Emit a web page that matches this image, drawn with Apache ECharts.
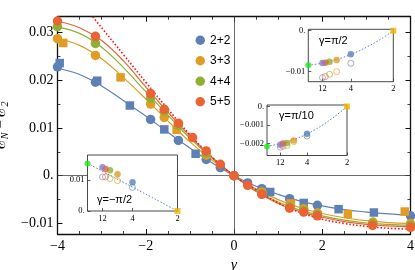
<!DOCTYPE html>
<html><head><meta charset="utf-8">
<script src="https://cdn.jsdelivr.net/npm/echarts@6/dist/echarts.min.js"></script>
<style>html,body{margin:0;padding:0;background:#fff}#c{width:415px;height:270px}</style>
</head><body><div id="c"></div>
<script>
// ---------- DATA ----------
const seriesNames = ['2+2', '3+3', '4+4', '5+5'];
const xTickValues = [-4, -2, 0, 2, 4];
const yMajorTicks = [-0.01, 0, 0.01, 0.02, 0.03];
const yMinorTicks = [-0.005, 0.005, 0.015, 0.025];

// circles (gamma, E_N - E_2)
const blueCircles = [[-4, 0.0228], [-3.14, 0.0196], [-1.89, 0.0118], [-1.26, 0.0074], [-0.63, 0.0034], [-0.31, 0.0017], [0, 0], [0.31, -0.0015], [0.63, -0.0027], [1.26, -0.0048], [1.89, -0.0062], [4, -0.0084]];
const orangeCircles = [[-4, 0.0287], [-3.14, 0.0252], [-1.89, 0.0150], [-1.58, 0.0122], [-0.63, 0.0043], [0, 0], [0.63, -0.0034], [1.27, -0.0061], [1.58, -0.0069], [1.89, -0.0078], [3.15, -0.0097], [4, -0.0100]];
const greenCircles = [[-4, 0.0312], [-3.14, 0.0277], [-1.89, 0.0162], [-1.58, 0.0135], [-1.26, 0.0106], [-0.63, 0.0048], [0, 0], [0.63, -0.0037], [1.26, -0.0065], [1.58, -0.0073], [1.89, -0.0081], [3.14, -0.0100], [4, -0.0104]];
const redCircles = [[-4, 0.0324], [-3.14, 0.0292], [-1.89, 0.0172], [-1.58, 0.0139], [-1.26, 0.0110], [-0.94, 0.0080], [-0.63, 0.0052], [-0.31, 0.0024], [0, 0], [0.31, -0.0020], [0.63, -0.0039], [1.26, -0.0068], [1.58, -0.0076], [1.89, -0.0084], [3.14, -0.0104], [4, -0.0108]];
// squares
const blueSquares = [[-3.95, 0.0236], [-3.1, 0.0199], [-2.36, 0.0147], [-1.58, 0.0097], [-0.87, 0.0046], [0.82, -0.0034], [1.58, -0.0057], [2.37, -0.0070], [3.17, -0.0077]];
const orangeSquares = [[-3.87, 0.0278], [-2.57, 0.0206], [-1.3, 0.0096], [1.29, -0.0058], [2.58, -0.0080], [3.87, -0.0075]];

// fit curves sampled at fitGamma
const fitGamma = [-4, -3.5, -3, -2.5, -2, -1.5, -1, -0.5, 0, 0.5, 1, 1.5, 2, 2.5, 3, 3.5, 4];
const blueFit = [0.0225, 0.0212, 0.0188, 0.0157, 0.0125, 0.0091, 0.0058, 0.0027, 0, -0.0022, -0.0039, -0.0053, -0.0063, -0.0071, -0.0076, -0.0080, -0.0083];
const orangeFit = [0.0287, 0.0273, 0.0245, 0.0205, 0.0161, 0.0115, 0.0071, 0.0033, 0, -0.0028, -0.0050, -0.0067, -0.0079, -0.0088, -0.0094, -0.0098, -0.0100];
const greenFit = [0.0311, 0.0298, 0.0269, 0.0226, 0.0176, 0.0127, 0.0079, 0.0037, 0, -0.0031, -0.0055, -0.0072, -0.0084, -0.0093, -0.0099, -0.0102, -0.0104];
const redFit = [0.0323, 0.0310, 0.0283, 0.0240, 0.0186, 0.0133, 0.0083, 0.0039, 0, -0.0033, -0.0058, -0.0075, -0.0087, -0.0096, -0.0102, -0.0105, -0.0107];
const limitGamma = [-3.3, -3, -2.5, -2, -1.5, -1, -0.5, 0, 0.5, 1, 1.5, 2, 2.5, 3, 3.5, 4];
const limitCurve = [0.0344, 0.0310, 0.0253, 0.0196, 0.0140, 0.0086, 0.0039, 0, -0.0029, -0.0057, -0.0077, -0.0091, -0.0100, -0.0106, -0.0110, -0.0112];

// insets: x = 1/N
const insetInvN = [1/4, 1/6, 1/8, 1/10, 1/12];
const insetXTicks = [1/12, 1/4, 1/2];
const insetFitX = [0, 0.05, 0.1, 0.15, 0.2, 0.25, 0.3, 0.35, 0.4, 0.45, 0.5];
const inset1Title = 'γ=π/2';
const inset1Filled = [-0.00576, -0.00715, -0.00756, -0.0078, -0.0079];
const inset1Open = [-0.00795, -0.0100, -0.01063, -0.0112, -0.01146];
const inset1Extrap = -0.0084;
const inset1Fit = [-0.0084, -0.00814, -0.00774, -0.00722, -0.00658, -0.0058, -0.0049, -0.00386, -0.0027, -0.00142, 0];
const inset1YTicks = [-0.01, 0];
const inset2Title = 'γ=π/10';
const inset2Filled = [-0.00148, -0.00184, -0.00198, -0.0020, -0.00207];
const inset2Open = [-0.0016, -0.0019, -0.0021, -0.00215, -0.0022];
const inset2Extrap = -0.00216;
const inset2Fit = [-0.00216, -0.00207, -0.00198, -0.00184, -0.00168, -0.00148, -0.00125, -0.00099, -0.00069, -0.00036, 0];
const inset2YTicks = [-0.002, -0.001, 0];
const inset3Title = 'γ=\u2212π/2';
const inset3Filled = [0.00926, 0.0119, 0.0132, 0.01355, 0.0141];
const inset3Open = [0.0076, 0.0098, 0.0105, 0.0110, 0.0110];
const inset3Extrap = 0.01539;
const inset3Fit = [0.0154, 0.01386, 0.01232, 0.01078, 0.00924, 0.0077, 0.00616, 0.00462, 0.00308, 0.00154, 0];
const inset3YTicks = [0, 0.01];

// ---------- STYLE ----------
const colors = ['#5E81B5', '#E19C24', '#8FB032', '#EB6235'];
const purple = '#8F7BC0';
const extrapColor = '#1EE81E';
const n2Color = '#F4B400';
const serif = '"Liberation Serif", "DejaVu Serif", serif';
const sans = '"Liberation Sans", Arial, sans-serif';
const ink = '#111';

const zip = (xs, ys) => xs.map((x, i) => [x, ys[i]]);
const minus = s => s.replace('-', '\u2212');
const fmtY = v => Math.abs(v) < 1e-9 ? '0.' : minus(String(+v.toFixed(4)));
const fmtX = v => minus(String(v));

const yMin = -0.0122, yMax = 0.0333;

function mainX(pos, showLabel) {
  return {
    type: 'value', gridIndex: 0, position: pos, min: -4, max: 4, interval: 2,
    axisLine: { show: true, onZero: false, lineStyle: { color: ink, width: 1.3 } },
    axisTick: { show: true, inside: true, length: 5, lineStyle: { color: ink, width: 1 } },
    minorTick: { show: true, splitNumber: 4, length: 3, lineStyle: { color: ink, width: 0.8 } },
    splitLine: { show: false }, minorSplitLine: { show: false },
    axisLabel: { show: showLabel, formatter: fmtX, fontFamily: serif, fontSize: 14, color: '#000', margin: 5 },
    name: showLabel ? 'γ' : '', nameLocation: 'middle', nameGap: 23,
    nameTextStyle: { fontFamily: serif, fontSize: 15, fontStyle: 'italic', color: '#000' }
  };
}
function mainY(pos, ticks, len, showLabel, showLine) {
  const ax = {
    type: 'value', gridIndex: 0, position: pos, min: yMin, max: yMax,
    axisLine: { show: showLine, onZero: false, lineStyle: { color: ink, width: 1.3 } },
    axisTick: { show: true, inside: true, length: len, customValues: ticks, lineStyle: { color: ink, width: len > 4 ? 1 : 0.8 } },
    splitLine: { show: false },
    axisLabel: { show: showLabel, customValues: ticks, formatter: fmtY, fontFamily: serif, fontSize: 14, color: '#000', margin: 4 }
  };
  if (showLabel) {
    ax.name = '{e|ℰ}{s|N}{m| − }{e|ℰ}{s|2}';
    ax.nameLocation = 'middle';
    ax.nameGap = 38;
    ax.nameRotate = 90;
    ax.nameTextStyle = {
      color: '#000',
      rich: {
        e: { fontFamily: serif, fontSize: 17, color: '#000', lineHeight: 19 },
        s: { fontFamily: serif, fontSize: 10, fontStyle: 'italic', color: '#000', verticalAlign: 'bottom', lineHeight: 19, padding: [8, 0, 0, 0] },
        m: { fontFamily: serif, fontSize: 15, color: '#000', lineHeight: 19 }
      }
    };
  }
  return ax;
}

const xAxes = [mainX('bottom', true), mainX('top', false)];
const yAxes = [
  mainY('left', yMajorTicks, 5, true, true),
  mainY('left', yMinorTicks, 3, false, false),
  mainY('right', yMajorTicks, 5, false, true),
  mainY('right', yMinorTicks, 3, false, false)
];

const insets = [
  { grid: { left: 308.3, top: 29.3, width: 85, height: 52.4 }, ymin: -0.01244, ymax: 0.00034, yTicks: inset1YTicks, filled: inset1Filled, open: inset1Open, extrap: inset1Extrap, fit: inset1Fit, title: inset1Title, tpos: [319, 35.5] },
  { grid: { left: 267, top: 105, width: 80, height: 50.5 }, ymin: -0.00265, ymax: 0.00008, yTicks: inset2YTicks, filled: inset2Filled, open: inset2Open, extrap: inset2Extrap, fit: inset2Fit, title: inset2Title, tpos: [279, 110.5] },
  { grid: { left: 87.5, top: 155, width: 90, height: 56 }, ymin: -0.00002, ymax: 0.0181, yTicks: inset3YTicks, filled: inset3Filled, open: inset3Open, extrap: inset3Extrap, fit: inset3Fit, title: inset3Title, tpos: [97, 194.5] }
];

const grids = [{ left: 57.5, right: 4.5, top: 16.7, bottom: 36, show: false, containLabel: false, outerBoundsMode: 'none' }];
const series = [];
const pointColors = [colors[0], colors[1], colors[2], colors[3], purple];

// main zero lines + fits
const fits = [blueFit, orangeFit, greenFit, redFit];
fits.forEach((f, i) => {
  const s = {
    type: 'line', name: 'fit' + i, xAxisIndex: 0, yAxisIndex: 0, data: zip(fitGamma, f),
    smooth: 0.4, showSymbol: false, symbol: 'none', clip: true,
    lineStyle: { color: colors[i], width: 1.2 }, z: 3, silent: true
  };
  if (i === 0) {
    s.markLine = {
      silent: true, symbol: 'none', label: { show: false }, animation: false,
      lineStyle: { color: '#444', width: 0.8, type: 'solid' },
      data: [{ xAxis: 0 }, { yAxis: 0 }]
    };
  }
  series.push(s);
});
series.push({
  type: 'line', name: 'limit', xAxisIndex: 0, yAxisIndex: 0, data: zip(limitGamma, limitCurve),
  smooth: 0.4, showSymbol: false, symbol: 'none', clip: true,
  lineStyle: { color: '#FF1010', width: 1.6, type: [1.5, 2] }, z: 3, silent: true
});
const squares = [blueSquares, orangeSquares];
const circles = [blueCircles, orangeCircles, greenCircles, redCircles];
circles.forEach((c, i) => {
  if (squares[i]) series.push({ type: 'scatter', name: 'sq' + i, xAxisIndex: 0, yAxisIndex: 0, data: squares[i], symbol: 'rect', symbolSize: 8.5, itemStyle: { color: colors[i], opacity: 1 }, z: 4 + i, silent: true });
  series.push({ type: 'scatter', name: seriesNames[i], xAxisIndex: 0, yAxisIndex: 0, data: c, symbol: 'circle', symbolSize: 9.5, itemStyle: { color: colors[i], opacity: 1 }, z: 4 + i, silent: true });
});

const graphics = [];
insets.forEach((ins, k) => {
  const gi = k + 1;
  grids.push(Object.assign({ show: true, backgroundColor: '#fff', borderColor: '#333', borderWidth: 0.9, z: 20, containLabel: false, outerBoundsMode: 'none' }, ins.grid));
  const xi = xAxes.length, yi = yAxes.length;
  xAxes.push({
    type: 'value', gridIndex: gi, min: 0, max: 0.5, z: 21,
    axisLine: { show: false, onZero: false },
    axisTick: { show: true, inside: true, length: 3, customValues: insetXTicks, lineStyle: { color: '#333', width: 0.8 } },
    splitLine: { show: false },
    axisLabel: { customValues: insetXTicks, formatter: v => String(Math.round(1 / v)), fontFamily: serif, fontSize: 8.5, color: '#000', margin: 3 }
  });
  yAxes.push({
    type: 'value', gridIndex: gi, min: ins.ymin, max: ins.ymax, z: 21,
    axisLine: { show: false, onZero: false },
    axisTick: { show: true, inside: true, length: 3, customValues: ins.yTicks, lineStyle: { color: '#333', width: 0.8 } },
    splitLine: { show: false },
    axisLabel: { customValues: ins.yTicks, showMinLabel: true, showMaxLabel: true, hideOverlap: false, formatter: fmtY, fontFamily: serif, fontSize: 8.5, color: '#000', margin: 3 }
  });
  series.push({
    type: 'line', xAxisIndex: xi, yAxisIndex: yi, data: zip(insetFitX, ins.fit), smooth: true, showSymbol: false, symbol: 'none',
    lineStyle: { color: colors[0], width: 1, type: [1.5, 1.8] }, z: 22, silent: true
  });
  series.push({
    type: 'scatter', xAxisIndex: xi, yAxisIndex: yi, symbol: 'circle', symbolSize: 6, z: 23, silent: true,
    data: insetInvN.map((x, j) => ({ value: [x, ins.open[j]], itemStyle: { color: 'rgba(255,255,255,0)', borderColor: pointColors[j], borderWidth: 0.8 } }))
  });
  series.push({
    type: 'scatter', xAxisIndex: xi, yAxisIndex: yi, symbol: 'circle', symbolSize: 6.5, z: 24, silent: true,
    data: insetInvN.map((x, j) => ({ value: [x, ins.filled[j]], itemStyle: { color: pointColors[j] } }))
  });
  series.push({
    type: 'scatter', xAxisIndex: xi, yAxisIndex: yi, symbol: 'circle', symbolSize: 6, z: 24, silent: true,
    data: [[0, ins.extrap]], itemStyle: { color: extrapColor }
  });
  series.push({
    type: 'scatter', xAxisIndex: xi, yAxisIndex: yi, symbol: 'rect', symbolSize: 6, z: 24, silent: true,
    data: [[0.5, 0]], itemStyle: { color: n2Color }
  });
  graphics.push({
    type: 'text', left: ins.tpos[0], top: ins.tpos[1], z: 30, silent: true,
    style: { text: ins.title, font: '11px ' + sans, fill: '#000' }
  });
});

const chart = echarts.init(document.getElementById('c'), null, { renderer: 'canvas' });
chart.setOption({
  animation: false,
  backgroundColor: '#fff',
  grid: grids,
  xAxis: xAxes,
  yAxis: yAxes,
  legend: {
    data: seriesNames, orient: 'vertical', left: 190.5, top: 29, icon: 'circle',
    itemWidth: 9.5, itemHeight: 9.5, itemGap: 8, selectedMode: false,
    textStyle: { fontFamily: sans, fontSize: 12, color: '#000', lineHeight: 12.5 }
  },
  graphic: graphics,
  series: series
});
</script>
</body></html>
